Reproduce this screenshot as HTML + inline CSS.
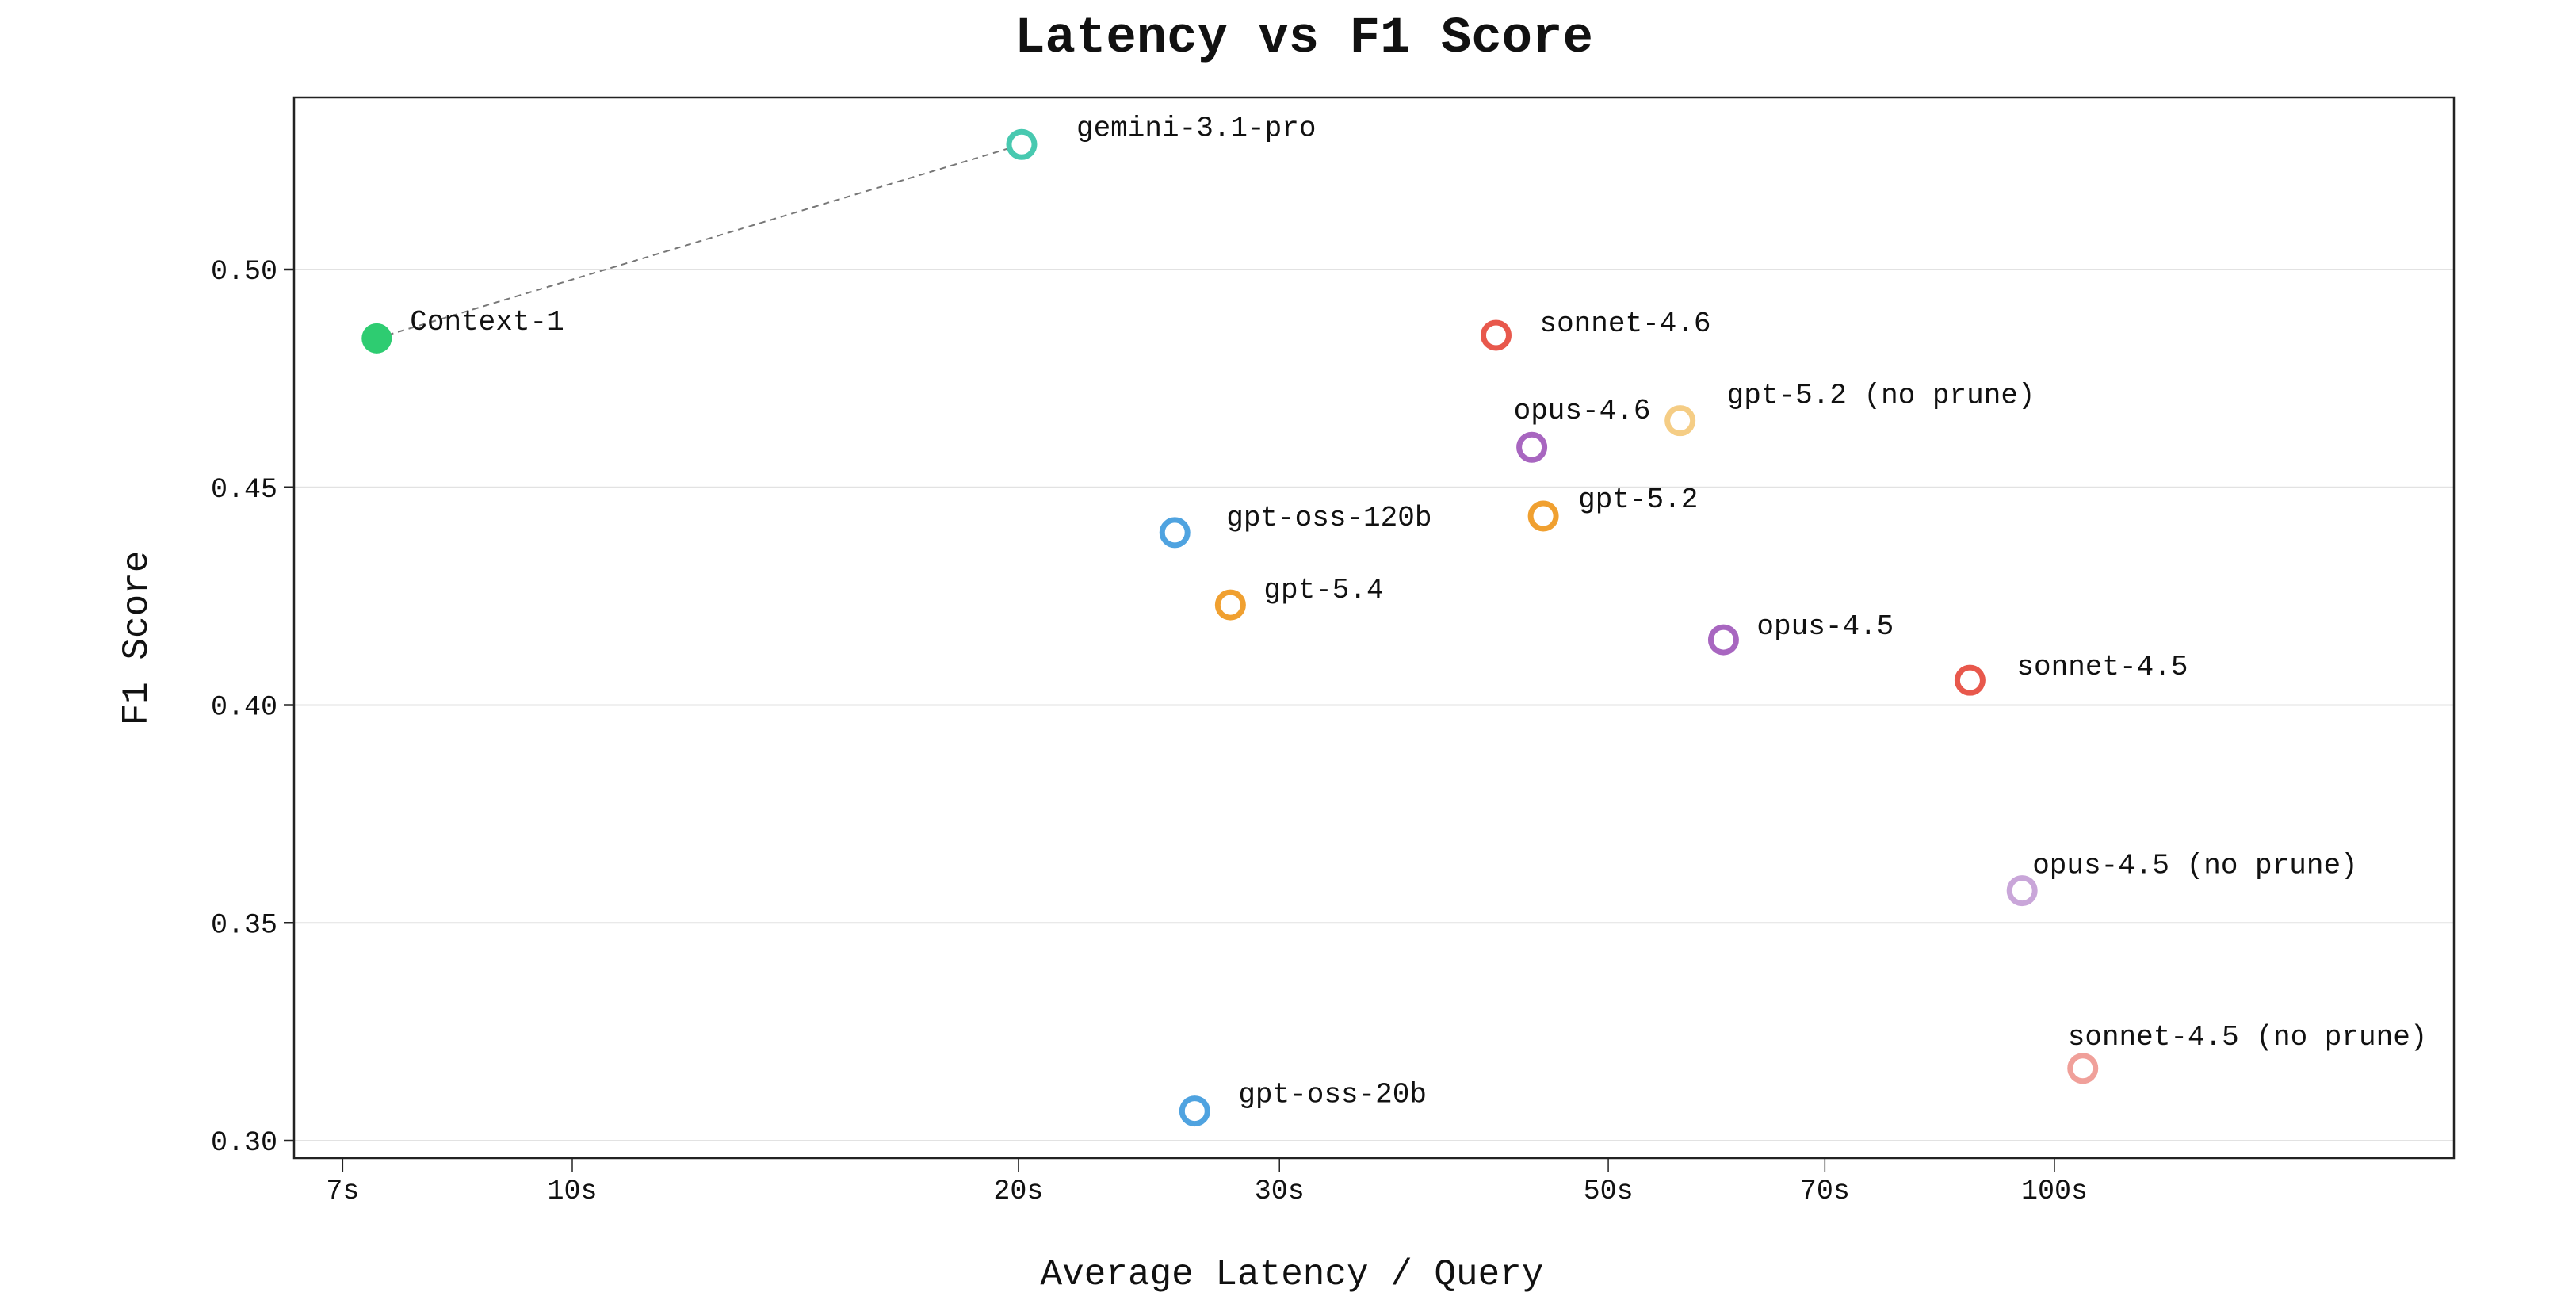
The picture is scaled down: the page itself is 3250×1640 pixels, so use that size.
<!DOCTYPE html>
<html><head><meta charset="utf-8"><style>
html,body{margin:0;padding:0;background:#fff;}
svg{display:block;font-family:"Liberation Mono",monospace;}
</style></head><body>
<svg id="chart" width="3250" height="1640" viewBox="0 0 3250 1640">
<text x="1645" y="65" text-anchor="middle" font-size="64" font-weight="bold" fill="#111">Latency vs F1 Score</text>
<g id="grid"></g>
<rect x="371" y="123" width="2725" height="1338" fill="none" stroke="#222" stroke-width="2.5"/>
<g id="axes"></g>
<g id="marks"></g>
<text x="1630" y="1620" text-anchor="middle" font-size="46" fill="#111">Average Latency / Query</text>
<text transform="translate(185,805) rotate(-90)" text-anchor="middle" font-size="46" fill="#111">F1 Score</text>
</svg>
<script>
const names = ["Context-1","gemini-3.1-pro","sonnet-4.6","gpt-5.2 (no prune)","opus-4.6","gpt-5.2","gpt-oss-120b","gpt-5.4","opus-4.5","sonnet-4.5","opus-4.5 (no prune)","sonnet-4.5 (no prune)","gpt-oss-20b"];
const latency = [7.38,20.1,42.0,55.9,44.4,45.2,25.5,27.8,59.8,87.7,95.1,104.5,26.3];
const f1 = [0.4842,0.5287,0.4849,0.4653,0.4592,0.4434,0.4396,0.423,0.415,0.4057,0.3574,0.3166,0.3068];
const colors = ["#2ecc71","#48c9b0","#e8584c","#f5cd85","#a866c0","#f0a030","#4fa3e0","#f0a030","#a866c0","#e8584c","#c9a6d9","#f0a09a","#4fa3e0"];
const xTicks = [7,10,20,30,50,70,100];
const xTickLabels = ["7s","10s","20s","30s","50s","70s","100s"];
const yTicks = [0.30,0.35,0.40,0.45,0.50];
const yTickLabels = ["0.30","0.35","0.40","0.45","0.50"];
// label offsets (layout, px)
const labelDx = [42,69,55,59,-23,44,65,42,42,59,13,-19,55];
const labelDy = [-23,-23,-17,-34,-48,-23,-21,-21,-19,-19,-34,-42,-23];

const NS="http://www.w3.org/2000/svg";
function X(v){return 722+1870*(Math.log10(v)-1);}
function Y(v){return 340+(0.5-v)*5495;}
function mk(tag,attrs,parent){const e=document.createElementNS(NS,tag);for(const k in attrs)e.setAttribute(k,attrs[k]);parent.appendChild(e);return e;}
const grid=document.getElementById('grid'),axes=document.getElementById('axes'),marks=document.getElementById('marks');
yTicks.forEach((t,i)=>{
  const g=mk('line',{x1:371,x2:3096,y1:Y(t),y2:Y(t),stroke:'#e2e2e2','stroke-width':2},grid);
  
  
  const tk=mk('line',{x1:358,x2:371,y1:Y(t),y2:Y(t),stroke:'#222','stroke-width':2.5},axes);
  
  
  const tx=mk('text',{x:350,y:Y(t)+12,'text-anchor':'end','font-size':35,fill:'#111'},axes);
  tx.textContent=yTickLabels[i];
  
  
});
xTicks.forEach((t,i)=>{
  const tk=mk('line',{x1:X(t),x2:X(t),y1:1461,y2:1478,stroke:'#222','stroke-width':1.5},axes);
  
  
  const tx=mk('text',{x:X(t),y:1512,'text-anchor':'middle','font-size':35,fill:'#111'},axes);
  tx.textContent=xTickLabels[i];
  
  
});
const cl=mk('line',{x1:X(latency[0]),y1:Y(f1[0]),x2:X(latency[1]),y2:Y(f1[1]),stroke:'#777','stroke-width':2,'stroke-dasharray':'8,6'},marks);


names.forEach((n,i)=>{
  const cx=X(latency[i]),cy=Y(f1[i]);
  const c = i===0 ? mk('circle',{cx,cy,r:19,fill:colors[i]},marks)
                  : mk('circle',{cx,cy,r:16,fill:'#fff',stroke:colors[i],'stroke-width':7},marks);
  
  
  const t=mk('text',{x:cx+labelDx[i],y:cy+labelDy[i]+12,'font-size':36,fill:'#111'},marks);
  t.textContent=n;
  
  
});
</script>
</body></html>
